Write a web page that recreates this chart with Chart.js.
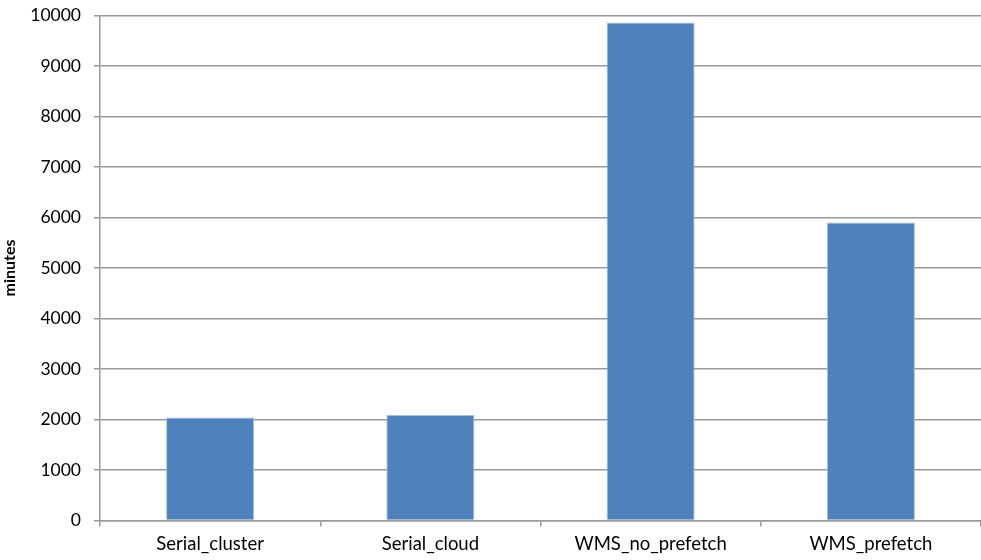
<!DOCTYPE html>
<html>
<head>
<meta charset="utf-8">
<title>Run time</title>
<script src="https://cdn.jsdelivr.net/npm/chart.js@4.4.1/dist/chart.umd.min.js"></script>
<style>
  html, body { margin: 0; padding: 0; background: #fff; }
  #runChart { display: block; }
</style>
</head>
<body>
<canvas id="runChart" width="981" height="560"></canvas>
<script>
const categories = ['Serial_cluster', 'Serial_cloud', 'WMS_no_prefetch', 'WMS_prefetch'];
const minutes = [2040, 2090, 9860, 5900];
const yTicks = [0, 1000, 2000, 3000, 4000, 5000, 6000, 7000, 8000, 9000, 10000];

const gridGrey = '#999999';
const fontFamily = 'Lato, "Liberation Sans", sans-serif';

const ctx = document.getElementById('runChart').getContext('2d');
const runChart = new Chart(ctx, {
    type: 'bar',
    data: {
        labels: categories,
        datasets: [{
            label: 'minutes',
            data: minutes,
            backgroundColor: '#4f81bd',
            borderColor: '#a9c0dc',
            borderWidth: 1,
            barPercentage: 0.4,
            categoryPercentage: 1
        }]
    },
    options: {
        responsive: false,
        animation: false,
        layout: { padding: { top: 15.5, right: 0, left: 0, bottom: 0 } },
        plugins: {
            legend: { display: false },
            tooltip: { enabled: false }
        },
        scales: {
            x: {
                offset: true,
                grid: {
                    offset: true,
                    drawOnChartArea: false,
                    drawTicks: true,
                    tickLength: 6,
                    color: gridGrey,
                    lineWidth: 1.5
                },
                border: { color: gridGrey, width: 1.5 },
                ticks: {
                    color: '#000',
                    font: { family: fontFamily, size: 18.5 },
                    padding: 6,
                    maxRotation: 0
                },
                afterFit: scale => { scale.height = 39.5; }
            },
            y: {
                min: 0,
                max: 10000,
                afterBuildTicks: scale => {
                    scale.ticks = yTicks.map(v => ({ value: v }));
                },
                grid: {
                    color: gridGrey,
                    lineWidth: 1.5,
                    drawTicks: true,
                    tickLength: 6
                },
                border: { color: gridGrey, width: 1.5 },
                ticks: {
                    color: '#000',
                    font: { family: fontFamily, size: 17.5 },
                    padding: 13,
                    callback: v => String(v)
                },
                title: {
                    display: true,
                    text: 'minutes',
                    color: '#000',
                    font: { family: fontFamily, size: 16, weight: 'bold' },
                    padding: { top: 0, bottom: 0 }
                },
                afterFit: scale => {
                    scale.width = 100;
                    scale.paddingTop = 0;
                    scale.paddingBottom = 0;
                }
            }
        }
    }
});
</script>
</body>
</html>
